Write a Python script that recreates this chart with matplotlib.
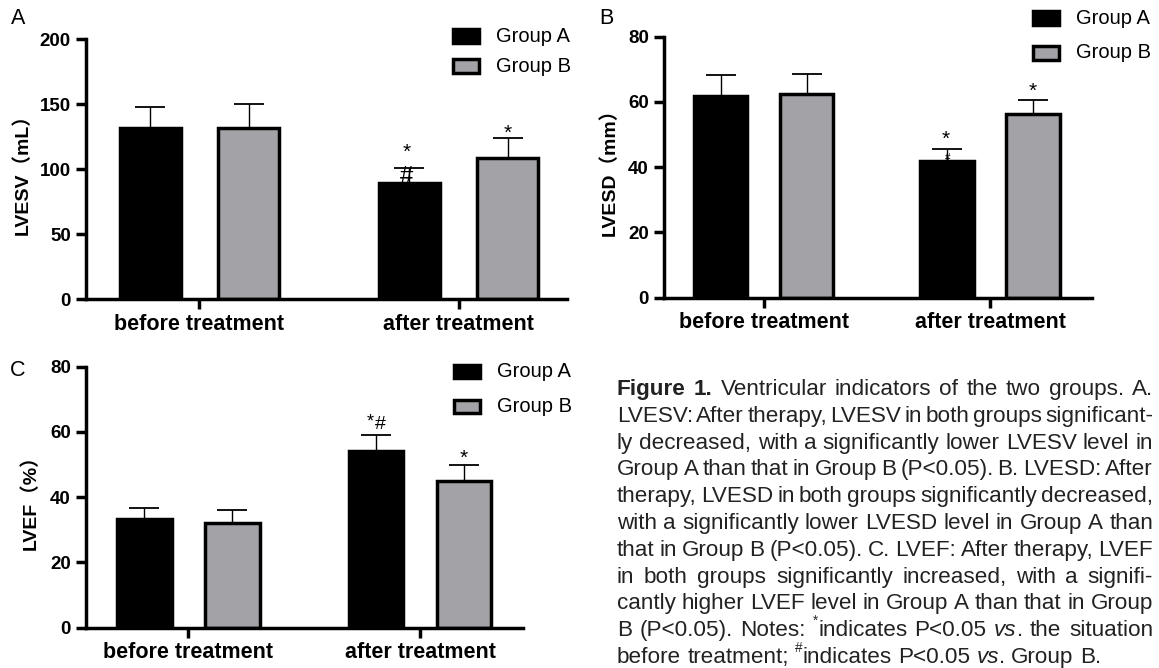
import matplotlib
matplotlib.use("Agg")
import matplotlib.pyplot as plt
from matplotlib.patches import Rectangle
import numpy as np

# ---------------- data ----------------
categories = ["before treatment", "after treatment"]
groups = ["Group A", "Group B"]

lvesv_a = [132.0, 89.0]
lvesv_a_sd = [16.0, 12.0]
lvesv_b = [131.5, 108.5]
lvesv_b_sd = [18.5, 15.3]

lvesd_a = [61.8, 42.0]
lvesd_a_sd = [6.5, 3.7]
lvesd_b = [62.5, 56.4]
lvesd_b_sd = [6.0, 4.3]

lvef_a = [33.2, 54.3]
lvef_a_sd = [3.6, 4.8]
lvef_b = [32.2, 45.1]
lvef_b_sd = [3.8, 4.8]

caption_lines = [
    "Figure 1. Ventricular indicators of the two groups. A.",
    "LVESV: After therapy, LVESV in both groups significant-",
    "ly decreased, with a significantly lower LVESV level in",
    "Group A than that in Group B (P<0.05). B. LVESD: After",
    "therapy, LVESD in both groups significantly decreased,",
    "with a significantly lower LVESD level in Group A than",
    "that in Group B (P<0.05). C. LVEF: After therapy, LVEF",
    "in both groups significantly increased, with a signifi-",
    "cantly higher LVEF level in Group A than that in Group",
    "B (P<0.05). Notes: ^*indicates P<0.05 vs. the situation",
    "before treatment; ^#indicates P<0.05 vs. Group B.",
]

# ---------------- style ----------------
GRAY = "#a3a3a7"
LW = 2.5
plt.rcParams["font.family"] = ["Liberation Sans", "Noto Sans CJK SC", "DejaVu Sans"]

W, H = 1159, 668
PX = 72 / 100  # points per pixel at 100 dpi
fig = plt.figure(figsize=(W / 100, H / 100), dpi=100)


def fx(px):
    return px / W


def fy(py):
    return 1 - py / H


def axes_px(left, top, right, bottom):
    return fig.add_axes([fx(left), fy(bottom), (right - left) / W, (bottom - top) / H])


# vertical position of the ink centre above the baseline, as a fraction of the font size
INK = {"*": 0.58, "#": 0.35}


def bar_panel(ax, a, a_sd, b, b_sd, ymax, ystep, xlim, ylabel, label_x, marks):
    x = np.arange(len(categories))
    off, width = 0.19, 0.235
    ax.bar(x - off, a, width, color="black", edgecolor="black", linewidth=LW, zorder=2)
    ax.bar(x + off, b, width, color=GRAY, edgecolor="black", linewidth=LW, zorder=2)
    for xs, m, sd in ((x - off, a, a_sd), (x + off, b, b_sd)):
        ax.errorbar(xs, m, yerr=[np.zeros(len(m)), sd], fmt="none", ecolor="black",
                    elinewidth=1.0, capsize=11, capthick=1.3, zorder=1)
    ax.set_xlim(*xlim)
    ax.set_ylim(0, ymax)
    ax.set_yticks(np.arange(0, ymax + 1, ystep))
    ax.set_xticks(x)
    ax.set_xticklabels(categories, fontsize=15.5, fontweight="bold")
    for lab in ax.get_yticklabels():
        lab.set_fontweight("bold")
        lab.set_fontsize(13.5)
    for s in ("top", "right"):
        ax.spines[s].set_visible(False)
    for s in ("left", "bottom"):
        ax.spines[s].set_linewidth(LW)
    ax.tick_params(axis="y", direction="out", length=7.2, width=LW, pad=3.6)
    ax.tick_params(axis="x", direction="out", length=7.5, width=LW, pad=3)
    ax.set_ylabel(ylabel, fontsize=14, fontweight="bold", va="center")
    ax.yaxis.set_label_coords(label_x, 0.5)
    means = (a, b)
    sds = (a_sd, b_sd)
    for ci, gi, txt, ink_px, dx_px, fs in marks:
        xpos = ci + (off if gi else -off)
        top = means[gi][ci] + sds[gi][ci]
        base_px = ink_px - INK[txt] * fs / PX
        ax.annotate(txt, xy=(xpos, top), xytext=(dx_px * PX, base_px * PX),
                    textcoords="offset points", ha="center", va="baseline", fontsize=fs)


def legend_px(x0, ys, fontsize=14.5):
    for y, col, name in zip(ys, ("black", GRAY), groups):
        fig.add_artist(Rectangle((fx(x0), fy(y + 6.5)), 26 / W, 13 / H,
                                 transform=fig.transFigure, facecolor=col,
                                 edgecolor="black", linewidth=LW))
        fig.text(fx(x0 + 43), fy(y), name, fontsize=fontsize, ha="left", va="center")


# Panel A: LVESV
axA = axes_px(86, 39, 567, 299.3)
bar_panel(axA, lvesv_a, lvesv_a_sd, lvesv_b, lvesv_b_sd, 200, 50, (-0.437, 1.418),
          "LVESV（mL）", -0.133,
          [(1, 0, "*", 22, -3, 15), (1, 0, "#", -7, -3, 17), (1, 1, "*", 11, 0, 15)])
legend_px(453, (36, 66))
fig.text(fx(18), fy(18), "A", fontsize=15.5, ha="center", va="center")

# Panel B: LVESD
axB = axes_px(664, 36.7, 1092, 297.7)
bar_panel(axB, lvesd_a, lvesd_a_sd, lvesd_b, lvesd_b_sd, 80, 20, (-0.441, 1.451),
          "LVESD（mm）", -0.127,
          [(1, 0, "*", 16, -1, 15), (1, 0, "#", -9, 1, 7), (1, 1, "*", 15, 0, 15)])
legend_px(1033, (18, 53))
fig.text(fx(606), fy(18), "B", fontsize=15.5, ha="center", va="center")

# Panel C: LVEF
axC = axes_px(86, 366.7, 523, 627.7)
bar_panel(axC, lvef_a, lvef_a_sd, lvef_b, lvef_b_sd, 80, 20, (-0.442, 1.445),
          "LVEF（%）", -0.126,
          [(1, 0, "*", 19, -6, 13), (1, 0, "#", 12.5, 4.5, 14), (1, 1, "*", 13, 0, 15)])
legend_px(454, (372, 406))
fig.text(fx(18), fy(370), "C", fontsize=15.5, ha="center", va="center")

# ---------------- justified caption ----------------
CAP_FONT = ["Liberation Sans", "DejaVu Sans"]
CAP_SIZE = 16.2
CAP_COLOR = "#222222"
x_left, x_right = 617, 1153
base0, lead = 395, 26.8
renderer = fig.canvas.get_renderer()


def word_segments(word, bold):
    if word.startswith("^"):
        return [(word[1], "sup"), (word[2:], "normal")]
    if word == "vs.":
        return [("vs", "italic"), (".", "normal")]
    return [(word, "bold" if bold else "normal")]


def make_text(txt, style):
    kw = dict(fontfamily=CAP_FONT, fontsize=CAP_SIZE, color=CAP_COLOR,
              ha="left", va="baseline")
    if style == "bold":
        kw["fontweight"] = "bold"
    elif style == "italic":
        kw["fontstyle"] = "italic"
    elif style == "sup":
        kw["fontsize"] = CAP_SIZE * 0.6
    return fig.text(0, 0, txt, **kw)


probe = make_text("x x", "normal")
w2 = probe.get_window_extent(renderer).width
probe.set_text("xx")
space_w = w2 - probe.get_window_extent(renderer).width
probe.remove()

for i, line in enumerate(caption_lines):
    words = line.split(" ")
    placed, widths = [], []
    for j, w in enumerate(words):
        arts, total = [], 0.0
        for txt, st in word_segments(w, i == 0 and j < 2):
            t = make_text(txt, st)
            wpx = t.get_window_extent(renderer).width
            arts.append((t, st, wpx))
            total += wpx
        placed.append(arts)
        widths.append(total)
    if i == len(caption_lines) - 1:
        gap = space_w
    else:
        gap = (x_right - x_left - sum(widths)) / (len(words) - 1)
    xp = x_left
    yb = base0 + i * lead
    for arts in placed:
        for t, st, wpx in arts:
            lift = CAP_SIZE * 0.5 / PX if st == "sup" else 0
            t.set_position((fx(xp), fy(yb - lift)))
            xp += wpx
        xp += gap

fig.savefig("out.png", dpi=100)
